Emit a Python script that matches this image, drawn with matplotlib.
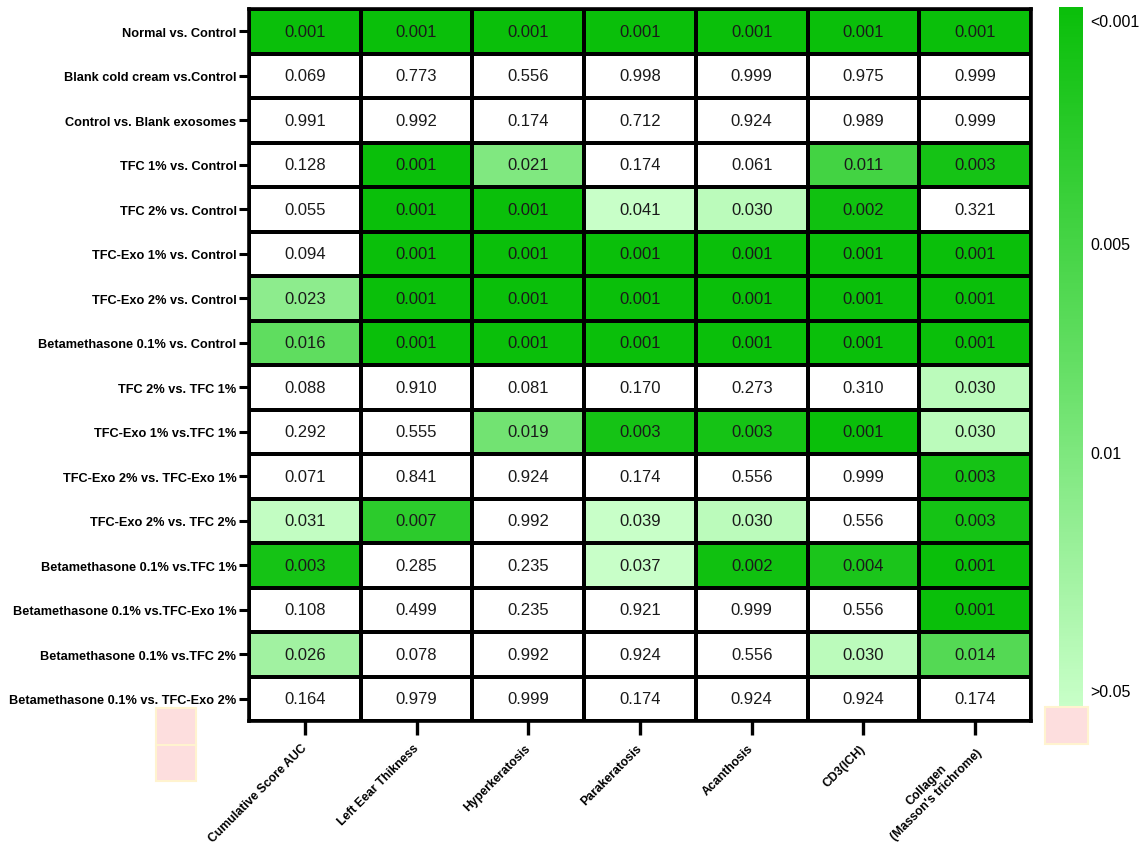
import numpy as np
import matplotlib
matplotlib.use("Agg")
import matplotlib.pyplot as plt
from matplotlib.colors import LinearSegmentedColormap, Normalize, FuncNorm
from matplotlib.cm import ScalarMappable
from matplotlib.patches import Rectangle

plt.rcParams['font.family'] = ['Liberation Sans', 'DejaVu Sans']

comparisons = [
    "Normal vs. Control",
    "Blank cold cream vs.Control",
    "Control vs. Blank exosomes",
    "TFC 1% vs. Control",
    "TFC 2% vs. Control",
    "TFC-Exo 1% vs. Control",
    "TFC-Exo 2% vs. Control",
    "Betamethasone 0.1% vs. Control",
    "TFC 2% vs. TFC 1%",
    "TFC-Exo 1% vs.TFC 1%",
    "TFC-Exo 2% vs. TFC-Exo 1%",
    "TFC-Exo 2% vs. TFC 2%",
    "Betamethasone 0.1% vs.TFC 1%",
    "Betamethasone 0.1% vs.TFC-Exo 1%",
    "Betamethasone 0.1% vs.TFC 2%",
    "Betamethasone 0.1% vs. TFC-Exo 2%",
]

measures = [
    "Cumulative Score AUC",
    "Left Eear Thikness",
    "Hyperkeratosis",
    "Parakeratosis",
    "Acanthosis",
    "CD3(ICH)",
    "Collagen\n(Masson's trichrome)",
]

cumulative_auc = [0.001, 0.069, 0.991, 0.128, 0.055, 0.094, 0.023, 0.016,
                  0.088, 0.292, 0.071, 0.031, 0.003, 0.108, 0.026, 0.164]
left_ear = [0.001, 0.773, 0.992, 0.001, 0.001, 0.001, 0.001, 0.001,
            0.910, 0.555, 0.841, 0.007, 0.285, 0.499, 0.078, 0.979]
hyperkeratosis = [0.001, 0.556, 0.174, 0.021, 0.001, 0.001, 0.001, 0.001,
                  0.081, 0.019, 0.924, 0.992, 0.235, 0.235, 0.992, 0.999]
parakeratosis = [0.001, 0.998, 0.712, 0.174, 0.041, 0.001, 0.001, 0.001,
                 0.170, 0.003, 0.174, 0.039, 0.037, 0.921, 0.924, 0.174]
acanthosis = [0.001, 0.999, 0.924, 0.061, 0.030, 0.001, 0.001, 0.001,
              0.273, 0.003, 0.556, 0.030, 0.002, 0.999, 0.556, 0.924]
cd3 = [0.001, 0.975, 0.989, 0.011, 0.002, 0.001, 0.001, 0.001,
       0.310, 0.001, 0.999, 0.556, 0.004, 0.556, 0.030, 0.924]
collagen = [0.001, 0.999, 0.999, 0.003, 0.321, 0.001, 0.001, 0.001,
            0.030, 0.030, 0.003, 0.003, 0.001, 0.001, 0.014, 0.174]

cbar_ticks = [0.001, 0.005, 0.01, 0.05]
cbar_labels = ["<0.001", "0.005", "0.01", ">0.05"]

pvals = np.column_stack([cumulative_auc, left_ear, hyperkeratosis, parakeratosis,
                         acanthosis, cd3, collagen])

W, H = 1146, 853
fig = plt.figure(figsize=(W / 100, H / 100), dpi=100)

def fig_rect(x0, y0, x1, y1):
    return [x0 / W, 1 - y1 / H, (x1 - x0) / W, (y1 - y0) / H]

greens = LinearSegmentedColormap.from_list("greens", ["#0abf0a", "#62de62", "#c8ffc8"])
greens.set_bad("white")

ax = fig.add_axes(fig_rect(249, 10, 1031, 722))
masked = np.ma.masked_where(pvals > 0.05, pvals)
cell_norm = Normalize(vmin=0.001, vmax=0.032, clip=True)
nr, nc = pvals.shape
ax.pcolormesh(np.arange(nc + 1), np.arange(nr + 1), masked, cmap=greens, norm=cell_norm,
              edgecolors="black", linewidth=1.7)
ax.set_xlim(0, nc)
ax.set_ylim(nr, 0)

for i in range(nr):
    for j in range(nc):
        ax.text(j + 0.5, i + 0.5, f"{pvals[i, j]:.3f}", ha="center", va="center",
                fontsize=12, color="#1a1a1a")

for s in ax.spines.values():
    s.set_linewidth(2.6)
    s.set_color("black")

ax.set_yticks(np.arange(nr) + 0.5)
ax.set_yticklabels(comparisons, fontsize=9.2, fontweight="bold")
ax.set_xticks(np.arange(nc) + 0.5)
ax.set_xticklabels(measures, fontsize=8.8, fontweight="bold", rotation=45,
                   ha="right", va="center", rotation_mode="anchor", multialignment="center")
ax.tick_params(axis="y", length=7, width=2.2, pad=2)
ax.tick_params(axis="x", length=10, width=2.4, pad=8)

# colour scale with its own tick spacing
nodes_p = [0.0008, 0.001, 0.005, 0.01, 0.05, 0.052]
nodes_f = [0.0, 0.019, 0.337, 0.636, 0.976, 1.0]
bar_norm = FuncNorm((lambda x: np.interp(x, nodes_p, nodes_f),
                     lambda y: np.interp(y, nodes_f, nodes_p)),
                    vmin=nodes_p[0], vmax=nodes_p[-1])
cax = fig.add_axes(fig_rect(1059, 8, 1083, 708))
cbar = fig.colorbar(ScalarMappable(norm=bar_norm, cmap=greens), cax=cax)
cbar.outline.set_visible(False)
cax.invert_yaxis()
cbar.set_ticks(cbar_ticks)
cbar.set_ticklabels(cbar_labels)
cax.tick_params(length=0, labelsize=11.5, pad=5)
cax.minorticks_off()

# light-pink swatches for out-of-range entries
for (x0, y0, x1, y1) in [(1045, 708, 1088, 745), (156, 709, 196, 746), (156, 746, 196, 782)]:
    fig.patches.append(Rectangle((x0 / W, 1 - y1 / H), (x1 - x0) / W, (y1 - y0) / H,
                                 transform=fig.transFigure, facecolor="#fddede",
                                 edgecolor="#fff3cf", linewidth=1.5))

fig.savefig("out.png", dpi=100, facecolor="white")
